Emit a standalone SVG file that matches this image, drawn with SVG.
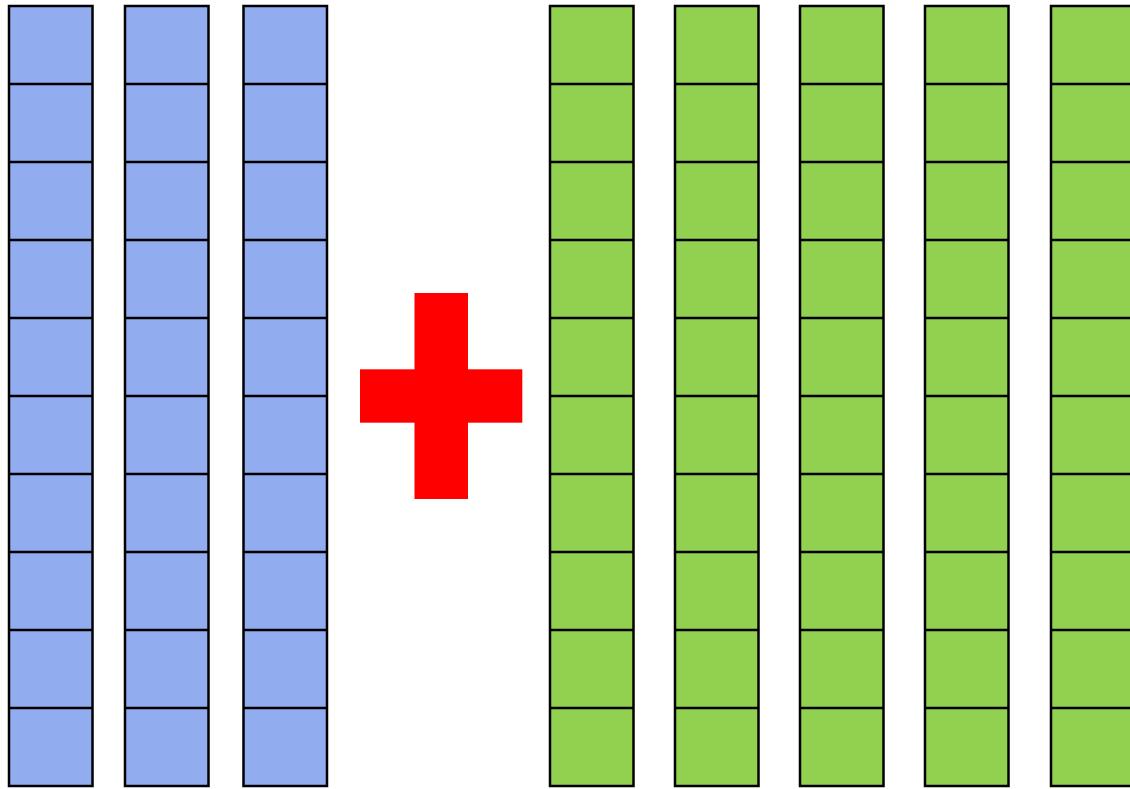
<svg xmlns="http://www.w3.org/2000/svg" width="1130" height="789" viewBox="0 0 1130 789">
<style>
.b{fill:#92acf0;stroke:#000;stroke-width:2.5}
.g{fill:#92d050;stroke:#000;stroke-width:2.5}
.l{stroke:#000;stroke-width:2.5}
.p{fill:#ff0000}
</style>
<defs>
<g id="rows">
<line class="l" x1="0" y1="84" x2="83.5" y2="84"/>
<line class="l" x1="0" y1="162" x2="83.5" y2="162"/>
<line class="l" x1="0" y1="240" x2="83.5" y2="240"/>
<line class="l" x1="0" y1="318" x2="83.5" y2="318"/>
<line class="l" x1="0" y1="396" x2="83.5" y2="396"/>
<line class="l" x1="0" y1="474" x2="83.5" y2="474"/>
<line class="l" x1="0" y1="552" x2="83.5" y2="552"/>
<line class="l" x1="0" y1="630" x2="83.5" y2="630"/>
<line class="l" x1="0" y1="708" x2="83.5" y2="708"/>
</g>
</defs>
<g id="blue1" transform="translate(9,0)"><rect class="b" x="0" y="6" width="83.5" height="780"/><use href="#rows"/></g>
<g id="blue2" transform="translate(125,0)"><rect class="b" x="0" y="6" width="83.5" height="780"/><use href="#rows"/></g>
<g id="blue3" transform="translate(243.5,0)"><rect class="b" x="0" y="6" width="83.5" height="780"/><use href="#rows"/></g>
<g id="plus">
<rect class="p" x="414.5" y="293" width="53.5" height="206"/>
<rect class="p" x="360" y="369.3" width="162.3" height="53.4"/>
</g>
<g id="green1" transform="translate(550,0)"><rect class="g" x="0" y="6" width="83.5" height="780"/><use href="#rows"/></g>
<g id="green2" transform="translate(675,0)"><rect class="g" x="0" y="6" width="83.5" height="780"/><use href="#rows"/></g>
<g id="green3" transform="translate(800,0)"><rect class="g" x="0" y="6" width="83.5" height="780"/><use href="#rows"/></g>
<g id="green4" transform="translate(925,0)"><rect class="g" x="0" y="6" width="83.5" height="780"/><use href="#rows"/></g>
<g id="green5" transform="translate(1051,0)"><rect class="g" x="0" y="6" width="83.5" height="780"/><use href="#rows"/></g>
<g id="connectors"/>
</svg>
